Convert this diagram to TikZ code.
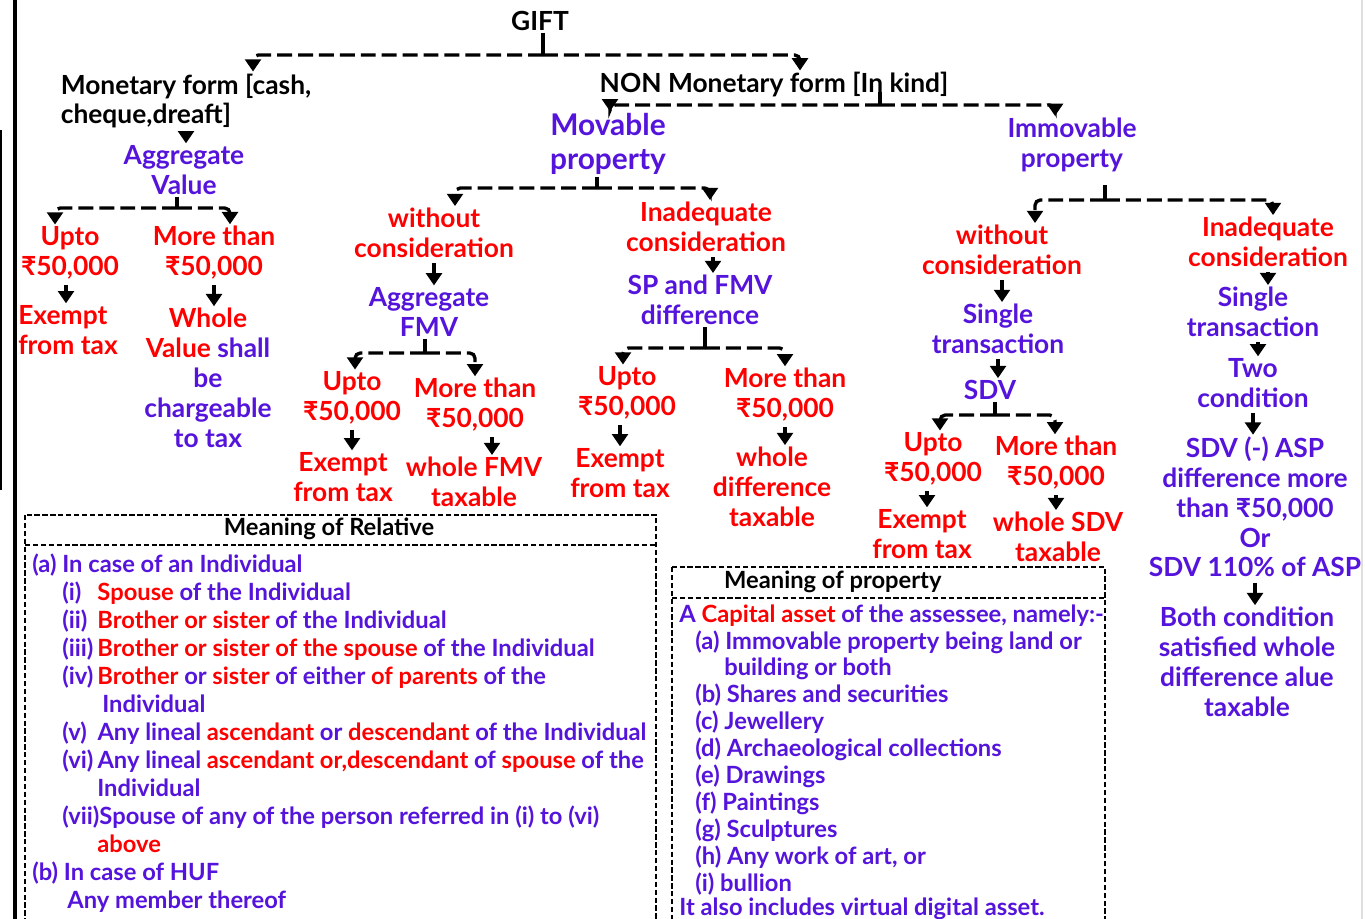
\documentclass[tikz,border=0pt]{standalone}
\usepackage{fontspec}
\setmainfont{Lato}
\usepackage{xcolor}
\usetikzlibrary{arrows.meta,calc}

\definecolor{giftred}{RGB}{255,0,0}
\definecolor{giftpurple}{RGB}{85,20,220}

\newcommand{\treefont}{\fontsize{15}{17}\selectfont\bfseries}
\newcommand{\bigfont}{\fontsize{17}{19.3}\selectfont\bfseries}
\newcommand{\boxfont}{\fontsize{13.5}{15}\selectfont\bfseries}
\newcommand{\rs}{₹}
\newcommand{\rlbl}[1]{\makebox[20pt][l]{#1}}

\begin{document}
\begin{tikzpicture}[
    x=0.02cm, y=-0.02cm,
    blk/.style={font=\treefont, text=black, align=center, inner sep=1pt},
    red/.style={font=\treefont, text=giftred, align=center, inner sep=1pt},
    pur/.style={font=\treefont, text=giftpurple, align=center, inner sep=1pt},
    item/.style={font=\boxfont, text=giftpurple, anchor=base west, inner sep=0pt},
    branch/.style={line width=1.9pt, dash pattern=on 8.5pt off 3.4pt, rounded corners=3pt, -{Triangle[width=9pt,length=7pt]}},
    stub/.style={line width=1.9pt},
    down/.style={line width=1.9pt, shorten <=2pt, -{Triangle[width=9pt,length=7pt]}},
    boxline/.style={line width=0.8pt, dash pattern=on 3pt off 1.5pt}
]
    \useasboundingbox (0,0) rectangle (1365,919);
    \clip (0,0) rectangle (1365,919);
    \fill[white] (0,0) rectangle (1365,919);

    % page edges
    \draw[line width=2.5pt] (15,0) -- (15,919);
    \draw[line width=1.2pt] (1,130) -- (1,490);
    \draw[gray!25, line width=1pt] (1362,0) -- (1362,919);

    % Top of the tree
    \node[blk] (gift) at (540,21) {GIFT};
    \node[blk, align=left] (mon) at (186,101) {Monetary form [cash,\\cheque,dreaft]};
    \node[blk] (nonmon) at (774,85) {NON Monetary form [In kind]};

    % Monetary side
    \node[pur] (aggval) at (184,170) {Aggregate\\Value};
    \node[red] (upto1) at (70,253) {Upto\\\rs50,000};
    \node[red] (more1) at (214,253) {More than\\\rs50,000};
    \node[red, align=left] (ex1) at (68,330) {Exempt\\from tax};
    \node[pur] (whole1) at (208,378) {\textcolor{giftred}{Whole}\\\textcolor{giftred}{Value} shall\\be\\chargeable\\to tax};

    % Movable property
    \node[pur, font=\bigfont] (movable) at (608,144) {Movable\\property};
    \node[red] (without1) at (434,233) {without\\consideration};
    \node[red] (inadeq1) at (706,227) {Inadequate\\consideration};
    \node[pur] (aggfmv) at (429,312) {Aggregate\\FMV};
    \node[red] (upto2) at (352,398) {Upto\\\rs50,000};
    \node[red] (more2) at (475,405) {More than\\\rs50,000};
    \node[red] (ex2) at (343,477) {Exempt\\from tax};
    \node[red] (wfmv) at (474,482) {whole FMV\\taxable};
    \node[pur] (spfmv) at (700,300) {SP and FMV\\difference};
    \node[red] (upto3) at (627,393) {Upto\\\rs50,000};
    \node[red] (more3) at (785,395) {More than\\\rs50,000};
    \node[red] (ex3) at (620,473) {Exempt\\from tax};
    \node[red] (wdiff) at (772,487) {whole\\difference\\taxable};

    % Immovable property
    \node[pur] (immov) at (1072,145) {Immovable\\property};
    \node[red] (without2) at (1002,250) {without\\consideration};
    \node[red] (inadeq2) at (1268,242) {Inadequate\\consideration};
    \node[pur] (single1) at (998,329) {Single\\transaction};
    \node[pur] (sdv) at (990,390) {SDV};
    \node[red] (upto4) at (933,459) {Upto\\\rs50,000};
    \node[red] (more4) at (1056,463) {More than\\\rs50,000};
    \node[red] (ex4) at (922,534) {Exempt\\from tax};
    \node[red] (wsdv) at (1058,537) {whole SDV\\taxable};
    \node[pur] (single2) at (1253,312) {Single\\transaction};
    \node[pur] (two) at (1253,383) {Two\\condition};
    \node[pur] (cond) at (1255,507) {SDV (-) ASP\\difference more\\than \rs50,000\\Or\\SDV 110\% of ASP};
    \node[pur] (both) at (1247,662) {Both condition\\satisfied whole\\difference alue\\taxable};

    % Forks
    \coordinate (giftfork) at (543,55);
    \coordinate (nonfork) at (880,105);
    \coordinate (aggfork) at (177,208);
    \coordinate (movfork) at (597,188);
    \coordinate (fmvfork) at (425,353);
    \coordinate (spfork) at (705,348);
    \coordinate (immfork) at (1105,200);
    \coordinate (sdvfork) at (995,415);

    \draw[stub] (gift.south -| giftfork) -- (giftfork);
    \draw[branch] (giftfork) -| ($(mon.north)+(67,0)$);
    \draw[branch] (giftfork) -| ($(nonmon.north)+(26,0)$);

    \draw[stub] ($(nonfork)+(0,-13)$) -- (nonfork);
    \draw[branch] (nonfork) -| ($(movable.north)+(2,0)$);
    \draw[branch] (nonfork) -| ($(immov.north)+(-17,0)$);

    \draw[stub] (aggval.south -| aggfork) -- (aggfork);
    \draw[branch] (aggfork) -| ($(upto1.north)+(-15,0)$);
    \draw[branch] (aggfork) -| ($(more1.north)+(16,0)$);

    \draw[stub] (movable.south -| movfork) -- (movfork);
    \draw[branch] (movfork) -| ($(without1.north)+(21,0)$);
    \draw[branch] (movfork) -| ($(inadeq1.north)+(4,0)$);

    \draw[stub] (aggfmv.south -| fmvfork) -- (fmvfork);
    \draw[branch] (fmvfork) -| ($(upto2.north)+(3,0)$);
    \draw[branch] (fmvfork) -| (more2.north);

    \draw[stub] (spfmv.south -| spfork) -- (spfork);
    \draw[branch] (spfork) -| ($(upto3.north)+(-4,0)$);
    \draw[branch] (spfork) -| (more3.north);

    \draw[stub] ($(immfork)+(0,-15)$) -- (immfork);
    \draw[branch] (immfork) -| ($(without2.north)+(33,0)$);
    \draw[branch] (immfork) -| ($(inadeq2.north)+(5,0)$);

    \draw[stub] (sdv.south -| sdvfork) -- (sdvfork);
    \draw[branch] (sdvfork) -| ($(upto4.north)+(7,0)$);
    \draw[branch] (sdvfork) -| ($(more4.north)+(-1,0)$);

    % Short arrows
    \draw[down] (mon.south) -- (mon.south |- aggval.north);
    \draw[down] ($(upto1.south)+(-4,0)$) -- ($(upto1.south |- ex1.north)+(-4,0)$);
    \draw[down] (more1.south) -- (more1.south |- whole1.north);
    \draw[down] (without1.south) -- (without1.south |- aggfmv.north);
    \draw[down] (upto2.south) -- (upto2.south |- ex2.north);
    \draw[down] ($(more2.south)+(17,0)$) -- ($(more2.south |- wfmv.north)+(17,0)$);
    \draw[down] ($(inadeq1.south)+(7,0)$) -- ($(inadeq1.south |- spfmv.north)+(7,0)$);
    \draw[down] ($(upto3.south)+(-7,0)$) -- ($(upto3.south |- ex3.north)+(-7,0)$);
    \draw[down] (more3.south) -- (more3.south |- wdiff.north);
    \draw[down] (without2.south) -- (without2.south |- single1.north);
    \draw[down] (single1.south) -- (single1.south |- sdv.north);
    \draw[down] ($(upto4.south)+(-6,0)$) -- ($(upto4.south |- ex4.north)+(-6,0)$);
    \draw[down] (more4.south) -- (more4.south |- wsdv.north);
    \draw[down] (inadeq2.south) -- (inadeq2.south |- single2.north);
    \draw[down] ($(single2.south)+(5,0)$) -- ($(single2.south |- two.north)+(5,0)$);
    \draw[down] (two.south) -- (two.south |- cond.north);
    \draw[down] (cond.south) -- (cond.south |- both.north);

    % Meaning of Relative
    \draw[boxline] (25,515) rectangle (656,935);
    \draw[boxline] (25,545) -- (656,545);
    \node[blk, font=\boxfont] (reltitle) at (329,529) {Meaning of Relative};
    \node[item] (rela) at (32,572) {(a) In case of an Individual};
    \node[item] (reli) at (62,600) {\rlbl{(i)}\textcolor{giftred}{Spouse} of the Individual};
    \node[item] (relii) at (62,628) {\rlbl{(ii)}\textcolor{giftred}{Brother or sister} of the Individual};
    \node[item] (reliii) at (62,656) {\rlbl{(iii)}\textcolor{giftred}{Brother or sister of the spouse} of the Individual};
    \node[item] (reliv) at (62,684) {\rlbl{(iv)}\textcolor{giftred}{Brother} or \textcolor{giftred}{sister} of either \textcolor{giftred}{of parents} of the};
    \node[item] (relivb) at (102,712) {Individual};
    \node[item] (relv) at (62,740) {\rlbl{(v)}Any lineal \textcolor{giftred}{ascendant} or \textcolor{giftred}{descendant} of the Individual};
    \node[item] (relvi) at (62,768) {\rlbl{(vi)}Any lineal \textcolor{giftred}{ascendant or,descendant} of \textcolor{giftred}{spouse} of the};
    \node[item] (relvib) at (97,796) {Individual};
    \node[item] (relvii) at (62,824) {(vii)Spouse of any of the person referred in (i) to (vi)};
    \node[item, text=giftred] (relviib) at (97,852) {above};
    \node[item] (relb) at (32,880) {(b) In case of HUF};
    \node[item] (relbb) at (67,908) {Any member thereof};

    % Meaning of property
    \draw[boxline] (672,567) rectangle (1105,935);
    \draw[boxline] (672,598) -- (1105,598);
    \node[blk, font=\boxfont, anchor=west] (proptitle) at (722,582) {Meaning of property};
    \node[item] (propa0) at (679,622) {A \textcolor{giftred}{Capital asset} of the assessee, namely:-};
    \node[item] (propa) at (695,649) {(a) Immovable property being land or};
    \node[item] (propab) at (724,675) {building or both};
    \node[item] (propb) at (695,702) {(b) Shares and securities};
    \node[item] (propc) at (695,729) {(c) Jewellery};
    \node[item] (propd) at (695,756) {(d) Archaeological collections};
    \node[item] (prope) at (695,783) {(e) Drawings};
    \node[item] (propf) at (695,810) {(f) Paintings};
    \node[item] (propg) at (695,837) {(g) Sculptures};
    \node[item] (proph) at (695,864) {(h) Any work of art, or};
    \node[item] (propi) at (695,891) {(i) bullion};
    \node[item] (propvda) at (679,915) {It also includes virtual digital asset.};
\end{tikzpicture}
\end{document}
